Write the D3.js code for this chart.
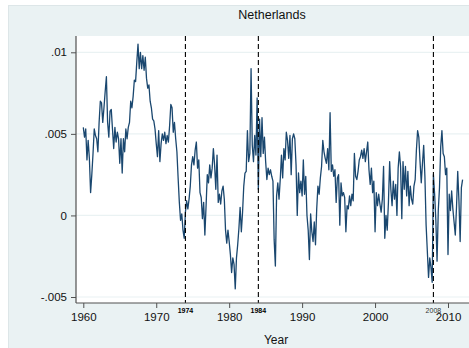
<!DOCTYPE html>
<html>
<head>
<meta charset="utf-8">
<script src="https://cdn.jsdelivr.net/npm/d3@7"></script>
<style>
  body { margin: 0; background: #fff; }
  text { font-family: "Liberation Sans", Arial, sans-serif; }
</style>
</head>
<body>
<svg id="chart"></svg>
<script>
// datos: 6 observaciones por año (bimestral) desde 1960
const startYear = 1960;
const perYear = 6;
const values = [
  0.0054, 0.0048, 0.0053, 0.0034, 0.0046, 0.0035, // 1960
  0.0014, 0.0025, 0.0038, 0.0053, 0.0049, 0.0047, // 1961
  0.0039, 0.0057, 0.0070, 0.0069, 0.0057, 0.0066, // 1962
  0.0076, 0.0085, 0.0057, 0.0048, 0.0064, 0.0065, // 1963
  0.0053, 0.0041, 0.0054, 0.0045, 0.0051, 0.0047, // 1964
  0.0032, 0.0047, 0.0026, 0.0047, 0.0039, 0.0053, // 1965
  0.0047, 0.0054, 0.0057, 0.0070, 0.0066, 0.0073, // 1966
  0.0083, 0.0082, 0.0094, 0.0105, 0.0090, 0.0100, // 1967
  0.0090, 0.0098, 0.0089, 0.0097, 0.0084, 0.0078, // 1968
  0.0080, 0.0070, 0.0066, 0.0059, 0.0058, 0.0053, // 1969
  0.0044, 0.0036, 0.0052, 0.0033, 0.0044, 0.0050, // 1970
  0.0046, 0.0051, 0.0044, 0.0049, 0.0045, 0.0055, // 1971
  0.0068, 0.0066, 0.0051, 0.0057, 0.0047, 0.0039, // 1972
  0.0023, 0.0008, -0.0003, 0.0001, -0.0009, -0.0014, // 1973
  0.0002, 0.0009, 0.0004, 0.0010, 0.0018, 0.0031, // 1974
  0.0036, 0.0031, 0.0040, 0.0045, 0.0029, 0.0034, // 1975
  0.0014, 0.0011, -0.0002, 0.0008, -0.0012, 0.0006, // 1976
  0.0025, 0.0020, 0.0031, 0.0023, 0.0029, 0.0041, // 1977
  0.0031, 0.0016, 0.0037, 0.0008, 0.0013, 0.0007, // 1978
  0.0015, 0.0018, 0.0010, -0.0009, -0.0017, -0.0009, // 1979
  -0.0016, -0.0024, -0.0035, -0.0026, -0.0030, -0.0045, // 1980
  -0.0026, -0.0018, -0.0008, 0.0005, -0.0010, 0.0002, // 1981
  0.0018, 0.0026, 0.0027, 0.0052, 0.0033, 0.0038, // 1982
  0.0090, 0.0043, 0.0033, 0.0049, 0.0037, 0.0072, // 1983
  0.0016, 0.0059, 0.0036, 0.0060, 0.0038, 0.0048, // 1984
  0.0033, 0.0022, 0.0029, 0.0025, 0.0028, 0.0024, // 1985
  0.0021, -0.0015, -0.0031, 0.0012, 0.0020, 0.0010, // 1986
  0.0022, 0.0037, 0.0023, 0.0041, 0.0034, 0.0051, // 1987
  0.0046, 0.0035, 0.0049, 0.0025, 0.0047, 0.0050, // 1988
  0.0047, 0.0031, 0.0000, 0.0026, 0.0014, 0.0021, // 1989
  0.0012, 0.0034, 0.0013, 0.0024, 0.0000, -0.0009, // 1990
  -0.0027, 0.0001, -0.0010, -0.0016, -0.0004, -0.0018, // 1991
  0.0004, 0.0018, 0.0013, 0.0023, 0.0030, 0.0046, // 1992
  0.0039, 0.0035, 0.0032, 0.0041, 0.0028, 0.0063, // 1993
  0.0027, 0.0031, 0.0024, 0.0028, 0.0008, 0.0023, // 1994
  0.0025, -0.0006, 0.0020, 0.0012, 0.0014, 0.0011, // 1995
  -0.0010, 0.0006, 0.0004, 0.0012, 0.0006, 0.0013, // 1996
  0.0009, 0.0038, 0.0024, 0.0022, 0.0027, 0.0034, // 1997
  0.0036, 0.0040, 0.0035, 0.0041, 0.0033, 0.0039, // 1998
  0.0045, 0.0028, 0.0019, 0.0029, 0.0014, 0.0021, // 1999
  -0.0010, 0.0014, 0.0006, 0.0013, 0.0007, 0.0002, // 2000
  0.0010, 0.0030, -0.0014, 0.0000, -0.0009, 0.0008, // 2001
  0.0033, 0.0016, 0.0006, 0.0021, 0.0010, 0.0019, // 2002
  0.0000, 0.0029, 0.0039, 0.0030, -0.0002, 0.0033, // 2003
  0.0016, 0.0030, 0.0012, 0.0027, 0.0006, 0.0018, // 2004
  0.0010, 0.0007, 0.0018, 0.0022, 0.0040, 0.0052, // 2005
  0.0048, 0.0033, 0.0020, 0.0032, 0.0043, 0.0024, // 2006
  -0.0006, -0.0022, -0.0038, -0.0026, -0.0032, -0.0041, // 2007
  0.0025, 0.0013, -0.0003, -0.0028, 0.0003, 0.0017, // 2008
  0.0042, 0.0052, 0.0038, 0.0036, 0.0025, 0.0029, // 2009
  -0.0024, 0.0013, 0.0003, 0.0015, 0.0004, -0.0004, // 2010
  -0.0012, 0.0005, 0.0027, 0.0009, -0.0016, 0.0017, // 2011
  0.0022 // 2012
];

// lineas verticales de quiebre
const breakYears = [1974, 1984, 2008];
const breakBold = [true, true, false];

// ticks
const xTicks = [1960, 1970, 1980, 1990, 2000, 2010];
const yTicks = [-0.005, 0, 0.005, 0.01];
const yTickLabels = ["-.005", "0", ".005", ".01"];

const title = "Netherlands";
const xTitle = "Year";

const width = 469;
const height = 348;
const plot = { left: 76, top: 36, right: 469, bottom: 303 };

const data = values.map((v, i) => ({ t: startYear + i / perYear, v: v }));

const svg = d3.select("#chart").attr("width", width).attr("height", height);

// fondos
svg.append("rect").attr("width", width).attr("height", height).attr("fill", "#fff");
svg.append("rect")
  .attr("x", 8.5).attr("y", 5.5)
  .attr("width", width).attr("height", height)
  .attr("fill", "#eaf2f3")
  .attr("stroke", "#dde6e8");
svg.append("rect")
  .attr("x", plot.left).attr("y", plot.top)
  .attr("width", plot.right - plot.left).attr("height", plot.bottom - plot.top)
  .attr("fill", "#fff");

// escalas
const x = d3.scaleLinear().domain([1960, 2010]).range([83.3, 448]);
const y = d3.scaleLinear().domain([-0.005, 0.01]).range([297, 52.3]);

// rejilla
svg.append("g")
  .selectAll("line")
  .data(yTicks)
  .join("line")
  .attr("x1", plot.left).attr("x2", plot.right)
  .attr("y1", (d) => y(d)).attr("y2", (d) => y(d))
  .attr("stroke", "#eaf2f3")
  .attr("stroke-width", 1.2);

// serie
const line = d3.line().x((d) => x(d.t)).y((d) => y(d.v));
svg.append("path")
  .datum(data)
  .attr("d", line)
  .attr("fill", "none")
  .attr("stroke", "#1a476f")
  .attr("stroke-width", 1.3)
  .attr("stroke-linejoin", "round");

// lineas de quiebre
svg.append("g")
  .selectAll("line")
  .data(breakYears)
  .join("line")
  .attr("x1", (d) => x(d)).attr("x2", (d) => x(d))
  .attr("y1", plot.top).attr("y2", plot.bottom)
  .attr("stroke", "#000")
  .attr("stroke-width", 1.1)
  .attr("stroke-dasharray", "5,3");

// eje y
const yAxis = svg.append("g")
  .attr("transform", `translate(${plot.left},0)`)
  .call(d3.axisLeft(y).tickValues(yTicks).tickSize(5).tickPadding(4)
    .tickFormat((d, i) => yTickLabels[i]));
yAxis.select(".domain").attr("d", `M0,${plot.top}V${plot.bottom}`);

// eje x
const xAxis = svg.append("g")
  .attr("transform", `translate(0,${plot.bottom})`)
  .call(d3.axisBottom(x).tickValues(xTicks).tickSize(5).tickPadding(5)
    .tickFormat(d3.format("d")));
xAxis.select(".domain").attr("d", `M${plot.left},0H${plot.right}`);

[yAxis, xAxis].forEach((a) => {
  a.select(".domain").attr("stroke", "#505050").attr("stroke-width", 1.2);
  a.selectAll(".tick line").attr("stroke", "#505050");
  a.selectAll(".tick text")
    .attr("fill", "#111")
    .style("font-size", "11.5px")
    .style("font-family", '"Liberation Sans", Arial, sans-serif');
});

// etiquetas de quiebre
svg.append("g")
  .selectAll("text")
  .data(breakYears)
  .join("text")
  .attr("x", (d) => x(d))
  .attr("y", 312.5)
  .attr("text-anchor", "middle")
  .attr("font-size", "7px")
  .attr("font-weight", (d, i) => (breakBold[i] ? "bold" : "normal"))
  .attr("fill", (d, i) => (breakBold[i] ? "#000" : "#333"))
  .text((d) => d);

// titulos
svg.append("text")
  .attr("x", 272).attr("y", 19)
  .attr("text-anchor", "middle")
  .attr("font-size", "12.5px")
  .attr("fill", "#111")
  .text(title);

svg.append("text")
  .attr("x", 276).attr("y", 344)
  .attr("text-anchor", "middle")
  .attr("font-size", "12px")
  .attr("fill", "#111")
  .text(xTitle);
</script>
</body>
</html>
